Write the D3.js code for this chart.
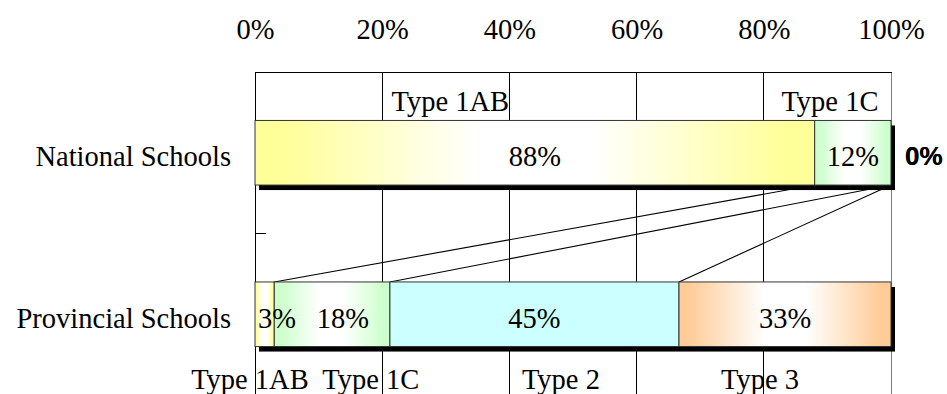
<!DOCTYPE html>
<html>
<head>
<meta charset="utf-8">
<script src="https://cdn.jsdelivr.net/npm/d3@7/dist/d3.min.js"></script>
<style>
  html, body { margin: 0; padding: 0; background: #ffffff; }
  svg { display: block; }
  text { font-family: "Liberation Serif", "Times New Roman", serif; fill: #000; }
</style>
</head>
<body>
<svg id="chart" width="947" height="394"></svg>
<script>
// School categories and the share of each school type (percent)
const categories = ["National Schools", "Provincial Schools"];
const seriesNames = ["Type 1AB", "Type 1C", "Type 2", "Type 3"];
const type1AB = [88, 3];
const type1C = [12, 18];
const type2 = [0, 45];
const type3 = [0, 33];
const tickValues = [0, 0.2, 0.4, 0.6, 0.8, 1];
const tickLabels = ["0%", "20%", "40%", "60%", "80%", "100%"];

// Fill colour per school type; gradients run colour → white → colour
const seriesColors = { "Type 1AB": "#ffff99", "Type 1C": "#ccffcc", "Type 2": "#ccffff", "Type 3": "#ffcc99" };
const seriesGradient = { "Type 1AB": true, "Type 1C": true, "Type 2": false, "Type 3": true };

// Where the type captions sit along the axis (fraction of the axis), above or below the bars
const captionSpots = [
  { name: "Type 1AB", row: "top", at: 0.307 },
  { name: "Type 1C", row: "top", at: 0.904 },
  { name: "Type 1AB", row: "bottom", at: -0.008 },
  { name: "Type 1C", row: "bottom", at: 0.182 },
  { name: "Type 2", row: "bottom", at: 0.481 },
  { name: "Type 3", row: "bottom", at: 0.794 }
];

const W = 947, H = 394;
const FONT = 28.5;
const plot = { left: 255, right: 891, top: 72, bottom: 395 };

const rows = categories.map((c, i) => ({
  category: c,
  "Type 1AB": type1AB[i],
  "Type 1C": type1C[i],
  "Type 2": type2[i],
  "Type 3": type3[i]
}));

const stacked = d3.stack().keys(seriesNames).offset(d3.stackOffsetExpand)(rows);

const x = d3.scaleLinear().domain([0, 1]).range([plot.left, plot.right]);
const y = d3.scaleBand().domain(categories).range([plot.top, plot.bottom])
  .paddingInner(0.6).paddingOuter(0.3);

const svg = d3.select("#chart");

// Gradient definitions
const defs = svg.append("defs");
seriesNames.forEach((s, i) => {
  if (!seriesGradient[s]) return;
  const g = defs.append("linearGradient").attr("id", "grad" + i)
    .attr("x1", "0").attr("x2", "1").attr("y1", "0").attr("y2", "0");
  [[0, seriesColors[s]], [0.05, seriesColors[s]], [0.4, "#ffffff"], [0.6, "#ffffff"], [0.95, seriesColors[s]], [1, seriesColors[s]]]
    .forEach(([o, c]) => g.append("stop").attr("offset", o).attr("stop-color", c));
});
const fillFor = (s, i) => seriesGradient[s] ? `url(#grad${i})` : seriesColors[s];

// Vertical gridlines
svg.append("g").selectAll("line")
  .data(tickValues.filter(v => v > 0))
  .join("line")
  .attr("x1", d => x(d)).attr("x2", d => x(d))
  .attr("y1", plot.top).attr("y2", H)
  .attr("stroke", d => d === 1 ? "#808080" : "#000")
  .attr("stroke-width", 1)
  .attr("shape-rendering", "crispEdges");

// Category axis line and the tick between the two categories
svg.append("line")
  .attr("x1", x(0)).attr("x2", x(0)).attr("y1", plot.top).attr("y2", H)
  .attr("stroke", "#000").attr("shape-rendering", "crispEdges");
const boundaries = categories.slice(1).map(c => y(c) - y.step() * y.paddingInner() / 2);
svg.append("g").selectAll("line").data(boundaries).join("line")
  .attr("x1", x(0)).attr("x2", x(0) + 11)
  .attr("y1", d => d).attr("y2", d => d)
  .attr("stroke", "#000").attr("shape-rendering", "crispEdges");

// Series lines joining each type's end between the two bars
const [topCat, botCat] = categories;
const seriesLines = stacked
  .map(layer => ({ a: layer[0][1], b: layer[1][1] }))
  .filter(d => !(d.a >= 1 && d.b >= 1));
svg.append("g").selectAll("line").data(seriesLines).join("line")
  .attr("x1", d => x(d.a)).attr("y1", y(topCat) + y.bandwidth())
  .attr("x2", d => x(d.b)).attr("y2", y(botCat))
  .attr("stroke", "#000").attr("stroke-width", 1.1);

// Drop shadows behind each bar
svg.append("g").selectAll("rect").data(categories).join("rect")
  .attr("x", x(0) + 4).attr("y", d => y(d) + 5)
  .attr("width", x(1) - x(0)).attr("height", y.bandwidth())
  .attr("fill", "#000");

// Bar segments
const segs = svg.append("g");
stacked.forEach((layer, i) => {
  segs.selectAll(null).data(layer.filter(d => d[1] - d[0] > 0)).join("rect")
    .attr("x", d => x(d[0]))
    .attr("y", d => y(d.data.category))
    .attr("width", d => x(d[1]) - x(d[0]))
    .attr("height", y.bandwidth())
    .attr("fill", fillFor(layer.key, i))
    .attr("stroke", "#333")
    .attr("stroke-width", 1);
});

// Category labels
svg.append("g").selectAll("text").data(categories).join("text")
  .attr("x", x(0) - 24)
  .attr("y", d => y(d) + y.bandwidth() / 2)
  .attr("dy", "0.47em")
  .attr("text-anchor", "end")
  .style("font-size", FONT + "px")
  .text(d => d);

// Value labels, kept inside the plot and clear of neighbours
const labelG = svg.append("g");
categories.forEach((cat, ci) => {
  let prevRight = -Infinity;
  stacked.forEach((layer, si) => {
    const d = layer[ci];
    const raw = d.data[layer.key];
    const t = labelG.append("text")
      .attr("y", y(cat) + y.bandwidth() / 2)
      .attr("dy", "0.47em")
      .attr("text-anchor", "middle")
      .style("font-size", (raw === 0 ? 26 : FONT) + "px")
      .text(raw + "%");
    if (raw === 0) {
      t.style("font-family", "'Liberation Sans', Arial, sans-serif").style("font-weight", "bold");
      const w = t.node().getComputedTextLength();
      t.attr("x", x(1) + 14 + w / 2);
      return;
    }
    const w = t.node().getComputedTextLength();
    const x0 = x(d[0]), x1 = x(d[1]);
    let cx = (x0 + x1) / 2;
    if (prevRight > x0) cx = (prevRight + x1) / 2;
    if (cx - w / 2 < x(0) + 3) cx = x(0) + 3 + w / 2;
    prevRight = cx + w / 2;
    t.attr("x", cx);
  });
});

// Percentage axis along the top
const axis = d3.axisTop(x)
  .tickValues(tickValues)
  .tickFormat((d, i) => tickLabels[i])
  .tickSizeInner(0).tickSizeOuter(0).tickPadding(33);
const axG = svg.append("g").attr("transform", `translate(0,${plot.top})`).call(axis)
  .attr("font-family", "'Liberation Serif', 'Times New Roman', serif");
axG.select(".domain").attr("stroke", "#000").attr("shape-rendering", "crispEdges");
axG.selectAll("text").style("font-size", FONT + "px")
  .style("font-family", "'Liberation Serif', 'Times New Roman', serif").attr("fill", "#000");

// Type captions above and below the bars
svg.append("g").selectAll("text").data(captionSpots).join("text")
  .attr("x", d => x(d.at))
  .attr("y", d => d.row === "top" ? y(topCat) - 9 : y(botCat) + y.bandwidth() + 42)
  .attr("text-anchor", "middle")
  .style("font-size", FONT + "px")
  .text(d => d.name);
</script>
</body>
</html>
